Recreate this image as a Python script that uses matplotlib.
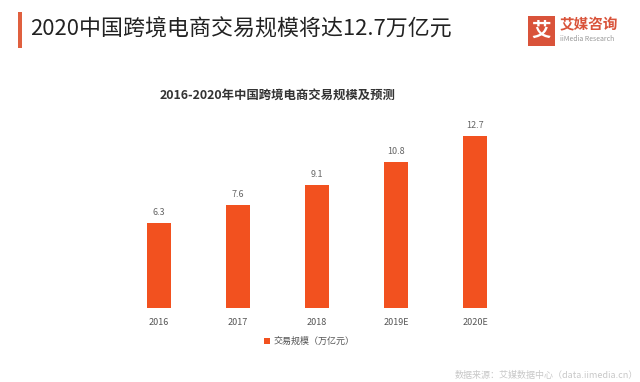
import matplotlib
matplotlib.use("Agg")
import matplotlib.pyplot as plt
from matplotlib.patches import Rectangle

plt.rcParams['font.family'] = ['Noto Sans CJK SC', 'DejaVu Sans']

categories = ["2016", "2017", "2018", "2019E", "2020E"]
values = [6.3, 7.6, 9.1, 10.8, 12.7]
value_labels = ["6.3", "7.6", "9.1", "10.8", "12.7"]
legend_label = "交易规模（万亿元）"
title = "2020中国跨境电商交易规模将达12.7万亿元"
subtitle = "2016-2020年中国跨境电商交易规模及预测"

W, H = 640, 382
fig = plt.figure(figsize=(W / 100, H / 100), dpi=100)
fig.patch.set_facecolor("white")

bar_color = "#F2511F"

# header bar and title
fig.add_artist(Rectangle((18 / W, 1 - 48 / H), 4 / W, 36 / H, transform=fig.transFigure,
                         color="#E0603F", lw=0))
fig.text(30 / W, 1 - 30 / H, title, fontsize=15.8, color="#222222", va="center", ha="left")

# logo
fig.add_artist(Rectangle((528 / W, 1 - 46 / H), 27 / W, 30 / H, transform=fig.transFigure,
                         color="#D9533A", lw=0))
fig.text(541.5 / W, 1 - 31 / H, "艾", fontsize=14, color="white", fontweight="bold",
         ha="center", va="center")
fig.text(560 / W, 1 - 24 / H, "艾媒咨询", fontsize=10.5, color="#D9533A", fontweight="bold",
         ha="left", va="center")
fig.text(560 / W, 1 - 39 / H, "iiMedia Research", fontsize=5, color="#999999",
         ha="left", va="center")

# chart subtitle
fig.text(160 / W, 1 - 95 / H, subtitle, fontsize=8.9, color="#333333", fontweight="bold",
         ha="left", va="center")

ax = fig.add_axes([119.5 / W, (H - 308) / H, 395 / W, 208 / H])
x = list(range(len(categories)))
ax.bar(x, values, width=0.3, color=bar_color, label=legend_label)
for xi, v, lab in zip(x, values, value_labels):
    ax.text(xi, v + 0.45, lab, ha="center", va="bottom", fontsize=6.5, color="#666666")
ax.set_xlim(-0.5, 4.5)
ax.set_ylim(0, 15.4)
ax.set_xticks(x)
ax.set_xticklabels(categories, fontsize=6.5, color="#555555")
ax.tick_params(axis="x", length=0, pad=7)
ax.set_yticks([])
for s in ax.spines.values():
    s.set_visible(False)

leg = ax.legend(loc="upper center", bbox_to_anchor=(0.48, -0.1), frameon=False,
                fontsize=6.5, handlelength=0.6, handleheight=0.6, handletextpad=0.4)
for t in leg.get_texts():
    t.set_color("#555555")

# faint source line near the bottom edge
fig.text(455 / W, 1 - 375 / H, "数据来源：艾媒数据中心（data.iimedia.cn）", fontsize=6.5,
         color="#C8C8C8", ha="left", va="center")

fig.savefig("out.png", dpi=100, facecolor="white")
